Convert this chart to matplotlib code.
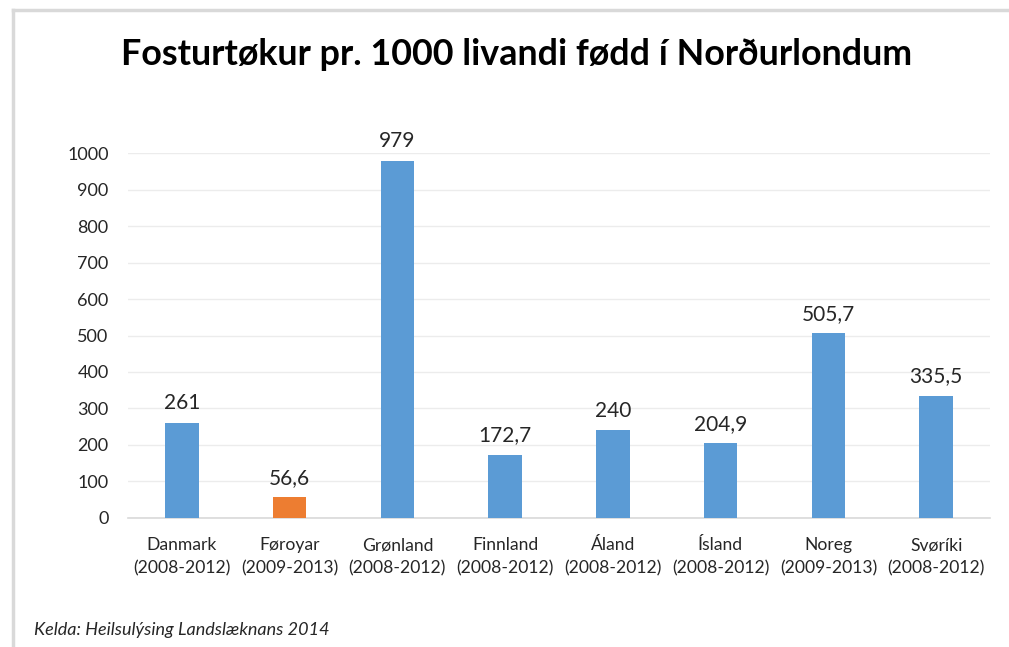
import matplotlib.pyplot as plt
from matplotlib.lines import Line2D

plt.rcParams['font.family'] = ['Lato', 'DejaVu Sans']

lond = ["Danmark", "Føroyar", "Grønland", "Finnland", "Áland", "Ísland", "Noreg", "Svøríki"]
ar = ["(2008-2012)", "(2009-2013)", "(2008-2012)", "(2008-2012)",
      "(2008-2012)", "(2008-2012)", "(2009-2013)", "(2008-2012)"]
virdi = [261, 56.6, 979, 172.7, 240, 204.9, 505.7, 335.5]
merki = ["261", "56,6", "979", "172,7", "240", "204,9", "505,7", "335,5"]

blue = '#5B9BD5'
orange = '#ED7D31'
litir = [orange if n == "Føroyar" else blue for n in lond]

fig = plt.figure(figsize=(10.09, 6.47), dpi=100)
ax = fig.add_axes([0.1269, 0.1994, 0.8543, 0.5641])

x = range(len(lond))
bars = ax.bar(x, virdi, width=0.31, color=litir, zorder=3)
for b, t in zip(bars, merki):
    ax.text(b.get_x() + b.get_width() / 2, b.get_height() + 26, t,
            ha='center', va='bottom', fontsize=15, color='#262626', clip_on=False)

ax.set_xlim(-0.5, len(lond) - 0.5)
ax.set_ylim(0, 1000)
ax.set_yticks(range(0, 1001, 100))
ax.set_xticks(list(x))
ax.set_xticklabels([f"{a}\n{b}" for a, b in zip(lond, ar)], fontsize=12.6, color='#262626',
                   linespacing=1.55)
ax.tick_params(axis='y', labelsize=13, labelcolor='#262626', length=0, pad=14)
ax.tick_params(axis='x', length=0, pad=14)
ax.yaxis.grid(True, color='#ececec', linewidth=1, zorder=0)
for s in ['top', 'right', 'left']:
    ax.spines[s].set_visible(False)
ax.spines['bottom'].set_color('#d9d9d9')
ax.spines['bottom'].set_linewidth(1.2)

fig.text(0.512, 0.916, "Fosturtøkur pr. 1000 livandi fødd í Norðurlondum",
         ha='center', va='center', fontsize=25.8, fontweight='bold', color='black')
fig.text(0.034, 0.026, "Kelda: Heilsulýsing Landslæknans 2014", ha='left', va='center',
         fontsize=13, style='italic', color='#262626')

# ramma
fig.add_artist(Line2D([0.013, 1.0], [0.984, 0.984], color='#d9d9d9', linewidth=2.5,
                      transform=fig.transFigure))
fig.add_artist(Line2D([0.013, 0.013], [0.0, 0.984], color='#d9d9d9', linewidth=2.5,
                      transform=fig.transFigure))

fig.savefig('out.png', dpi=100)
